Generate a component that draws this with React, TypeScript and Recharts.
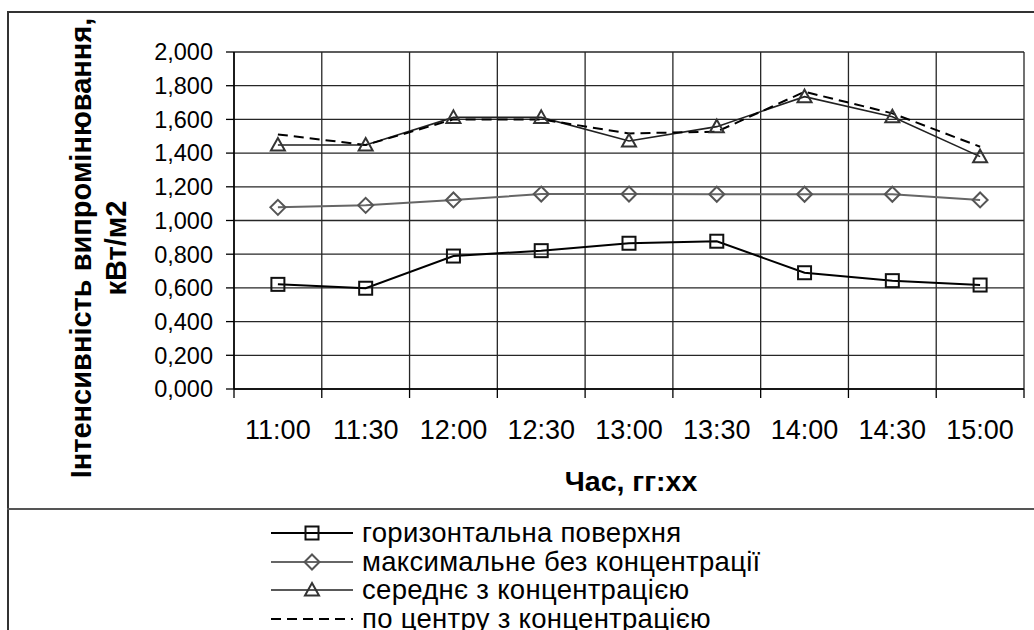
import React from 'react';
import { LineChart, Line, XAxis, YAxis, CartesianGrid } from 'recharts';

const times = ['11:00', '11:30', '12:00', '12:30', '13:00', '13:30', '14:00', '14:30', '15:00'];
const horizontal = [0.621, 0.598, 0.789, 0.821, 0.865, 0.877, 0.69, 0.643, 0.617];
const maxNoConc = [1.078, 1.09, 1.122, 1.157, 1.157, 1.156, 1.156, 1.156, 1.122];
const avgConc = [1.448, 1.448, 1.612, 1.612, 1.472, 1.557, 1.735, 1.616, 1.379];
const centerConc = [1.511, 1.448, 1.6, 1.6, 1.517, 1.527, 1.764, 1.636, 1.438];

const yTicks = [0, 0.2, 0.4, 0.6, 0.8, 1.0, 1.2, 1.4, 1.6, 1.8, 2.0];

const legendNames = [
    'горизонтальна поверхня',
    'максимальне без концентрації',
    'середнє з концентрацією',
    'по центру з концентрацією',
];

const data = times.map((time, i) => ({
    time,
    horizontal: horizontal[i],
    maxNoConc: maxNoConc[i],
    avgConc: avgConc[i],
    centerConc: centerConc[i],
}));

const FONT = '"Liberation Sans", Arial, sans-serif';

const fmt = (v: number) => v.toFixed(3).replace('.', ',');

const Square = ({ cx, cy, color }: any) =>
    cx == null ? null : (
        <rect x={cx - 6.5} y={cy - 6.5} width={13} height={13} fill="none" stroke={color} strokeWidth={2} />
    );

const Diamond = ({ cx, cy, color }: any) =>
    cx == null ? null : (
        <path
            d={`M${cx},${cy - 7.5} L${cx + 7.5},${cy} L${cx},${cy + 7.5} L${cx - 7.5},${cy} Z`}
            fill="none"
            stroke={color}
            strokeWidth={2}
        />
    );

const Triangle = ({ cx, cy, color }: any) =>
    cx == null ? null : (
        <path
            d={`M${cx},${cy - 7} L${cx + 7},${cy + 5.5} L${cx - 7},${cy + 5.5} Z`}
            fill="none"
            stroke={color}
            strokeWidth={2}
        />
    );

const series = [
    { key: 'horizontal', color: '#000', marker: Square, markerColor: '#111', width: 2, dash: undefined },
    { key: 'maxNoConc', color: '#666', marker: Diamond, markerColor: '#555', width: 2, dash: undefined },
    { key: 'avgConc', color: '#222', marker: Triangle, markerColor: '#333', width: 1.6, dash: undefined },
    { key: 'centerConc', color: '#000', marker: null, markerColor: '#000', width: 2, dash: '10 6' },
];

// category label in the middle of its band, tick marks on the band edges
const TimeTick = (props: any) => {
    const { x, y, width, visibleTicksCount, index, payload } = props;
    const half = width / visibleTicksCount / 2;
    return (
        <g>
            <line x1={x - half} y1={y} x2={x - half} y2={y + 9} stroke="#000" strokeWidth={1.3} />
            {index === visibleTicksCount - 1 && (
                <line x1={x + half} y1={y} x2={x + half} y2={y + 9} stroke="#000" strokeWidth={1.3} />
            )}
            <text x={x} y={y + 31} dy="0.71em" textAnchor="middle" fontSize={27} fill="#000" fontFamily={FONT}>
                {payload.value}
            </text>
        </g>
    );
};

const bandEdges = ({ offset }: any) =>
    Array.from({ length: times.length + 1 }, (_, i) => offset.left + (i * offset.width) / times.length);

const LegendRow = ({ idx }: { idx: number }) => {
    const s = series[idx];
    const M = s.marker as any;
    return (
        <div style={{ position: 'absolute', left: 271, top: 519 + idx * 28.5, height: 28, display: 'flex', alignItems: 'center' }}>
            <svg width={84} height={28}>
                <line x1={0} y1={14} x2={82} y2={14} stroke={s.color} strokeWidth={s.width} strokeDasharray={s.dash} />
                {M && <M cx={41} cy={14} color={s.markerColor} />}
            </svg>
            <span style={{ marginLeft: 7, fontSize: 27.5, letterSpacing: 0.3, lineHeight: '28px', color: '#000', whiteSpace: 'nowrap' }}>
                {legendNames[idx]}
            </span>
        </div>
    );
};

export default function App() {
    return (
        <div style={{ position: 'fixed', left: 0, top: 0, width: 1034, height: 630, overflow: 'hidden', background: '#fff', fontFamily: FONT }}>
            <div style={{ position: 'absolute', left: 7, top: 11, width: 1100, height: 700, border: '2px solid #333', boxSizing: 'border-box' }} />
            <div style={{ position: 'absolute', left: 7, top: 508, width: 1100, height: 2, background: '#555' }} />

            <div style={{ position: 'absolute', left: 0, top: 0 }}>
                <LineChart width={1034} height={510} data={data} margin={{ top: 52, right: 10, bottom: 120, left: 0 }}>
                    <XAxis
                        dataKey="time"
                        scale="band"
                        height={1}
                        interval={0}
                        axisLine={{ stroke: '#000', strokeWidth: 1.5 }}
                        tickLine={false}
                        tickSize={0}
                        tickMargin={0}
                        tick={<TimeTick />}
                    />
                    <YAxis
                        width={234}
                        domain={[0, 2]}
                        ticks={yTicks}
                        interval={0}
                        tickFormatter={fmt}
                        tickSize={8}
                        tickMargin={13}
                        axisLine={{ stroke: '#000', strokeWidth: 1.5 }}
                        tickLine={{ stroke: '#000', strokeWidth: 1.3 }}
                        tick={{ fontSize: 23.5, fill: '#000', fontFamily: FONT }}
                    />
                    <CartesianGrid stroke="#262626" strokeWidth={1.3} verticalCoordinatesGenerator={bandEdges} />
                    {series.map((s) => {
                        const M = s.marker as any;
                        return (
                            <Line
                                key={s.key}
                                dataKey={s.key}
                                stroke={s.color}
                                strokeWidth={s.width}
                                strokeDasharray={s.dash}
                                isAnimationActive={false}
                                activeDot={false}
                                dot={
                                    M
                                        ? (p: any) => <M key={`${s.key}-${p.index}`} cx={p.cx} cy={p.cy} color={s.markerColor} />
                                        : false
                                }
                            />
                        );
                    })}
                </LineChart>
            </div>

            <div
                style={{
                    position: 'absolute',
                    left: 100 - 260,
                    top: 248 - 36,
                    width: 520,
                    height: 72,
                    transform: 'rotate(-90deg)',
                    textAlign: 'center',
                    fontWeight: 'bold',
                    fontSize: 29,
                    lineHeight: '35px',
                    color: '#000',
                }}
            >
                <div>Інтенсивність випромінювання,</div>
                <div>кВт/м2</div>
            </div>

            <div style={{ position: 'absolute', left: 431, top: 464, width: 400, textAlign: 'center', fontWeight: 'bold', fontSize: 28.5, lineHeight: '34px', color: '#000' }}>
                Час, гг:хх
            </div>

            {legendNames.map((_, i) => (
                <LegendRow key={i} idx={i} />
            ))}
        </div>
    );
}
